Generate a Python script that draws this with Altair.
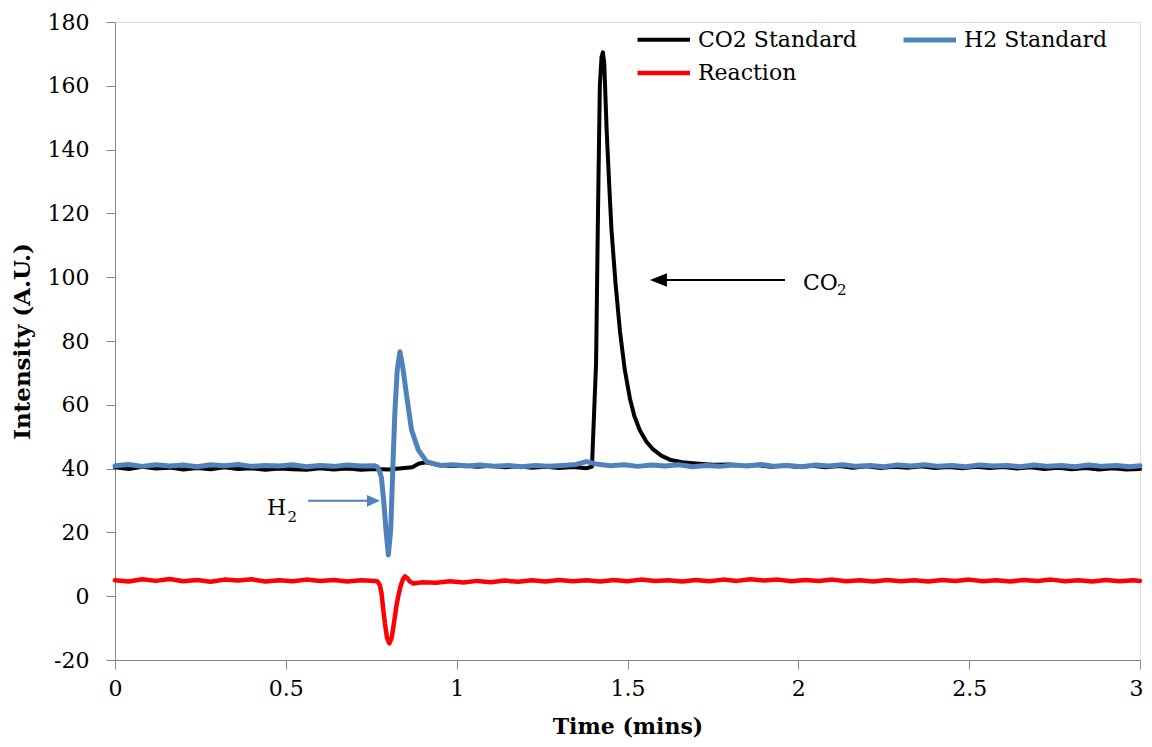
import altair as alt
import pandas as pd

# ---------------- data ----------------
series_names = ["CO2 Standard", "H2 Standard", "Reaction"]
series_colors = ["#000000", "#4F81BD", "#FF0000"]
series_widths = [4, 4.5, 5]
# legend lays entries out column by column: CO2 / Reaction in column 1, H2 in column 2
legend_order = ["CO2 Standard", "Reaction", "H2 Standard"]

co2_t = [0.00, 0.04, 0.08, 0.12, 0.16, 0.20, 0.24, 0.28, 0.32, 0.36,
         0.40, 0.44, 0.48, 0.52, 0.56, 0.60, 0.64, 0.68, 0.72, 0.76,
         0.80, 0.84, 0.87, 0.89, 0.91, 0.94, 0.98, 1.02, 1.06, 1.10,
         1.14, 1.18, 1.22, 1.26, 1.30, 1.34, 1.38, 1.396, 1.408, 1.413,
         1.419, 1.424, 1.428, 1.432, 1.439, 1.446, 1.453, 1.465, 1.478, 1.492,
         1.507, 1.52, 1.536, 1.555, 1.575, 1.60, 1.624, 1.66, 1.70, 1.75,
         1.80, 1.84, 1.88, 1.92, 1.96, 2.00, 2.04, 2.08, 2.12, 2.16,
         2.20, 2.24, 2.28, 2.32, 2.36, 2.40, 2.44, 2.48, 2.52, 2.56,
         2.60, 2.64, 2.68, 2.72, 2.76, 2.80, 2.84, 2.88, 2.92, 2.96, 3.00]
co2_v = [40.4, 39.9, 40.6, 40.0, 40.3, 39.7, 40.2, 39.8, 40.4, 39.9,
         40.1, 39.6, 40.0, 39.8, 39.6, 40.1, 39.7, 40.0, 39.6, 39.9,
         39.7, 40.1, 40.4, 41.6, 42.0, 41.3, 40.8, 41.0, 40.6, 40.9,
         40.4, 40.7, 40.3, 40.6, 40.2, 40.5, 40.1, 40.6, 73.0, 115.0,
         160.0, 169.0, 170.5, 167.0, 146.0, 130.0, 115.0, 98.0, 83.0, 71.0,
         62.0, 56.5, 52.0, 48.5, 46.0, 44.0, 42.8, 42.0, 41.6, 41.2,
         41.3, 40.8, 41.1, 40.6, 41.0, 40.5, 40.9, 40.4, 40.8, 40.3,
         40.7, 40.2, 40.6, 40.3, 40.7, 40.2, 40.5, 40.1, 40.6, 40.2,
         40.5, 40.0, 40.4, 39.9, 40.3, 39.8, 40.2, 39.7, 40.1, 39.7, 39.9]

h2_t = [0.00, 0.04, 0.08, 0.12, 0.16, 0.20, 0.24, 0.28, 0.32, 0.36,
        0.40, 0.44, 0.48, 0.52, 0.56, 0.60, 0.64, 0.68, 0.72, 0.76,
        0.768, 0.775, 0.780, 0.787, 0.793, 0.800, 0.807, 0.813, 0.819, 0.826,
        0.834, 0.842, 0.854, 0.868, 0.888, 0.912, 0.951, 0.99, 1.03, 1.07,
        1.11, 1.15, 1.19, 1.23, 1.27, 1.31, 1.35, 1.38, 1.41, 1.45,
        1.49, 1.53, 1.57, 1.61, 1.65, 1.69, 1.73, 1.77, 1.81, 1.85,
        1.89, 1.93, 1.97, 2.01, 2.05, 2.09, 2.13, 2.17, 2.21, 2.25,
        2.29, 2.33, 2.37, 2.41, 2.45, 2.49, 2.53, 2.57, 2.61, 2.65,
        2.69, 2.73, 2.77, 2.81, 2.85, 2.89, 2.93, 2.97, 3.00]
h2_v = [40.9, 41.3, 40.7, 41.2, 40.8, 41.1, 40.6, 41.2, 40.9, 41.3,
        40.7, 41.0, 40.8, 41.2, 40.6, 41.0, 40.7, 41.1, 40.8, 40.9,
        40.5, 39.0, 37.0, 29.2, 20.8, 12.9, 20.8, 39.6, 57.3, 70.9,
        76.6, 72.0, 62.5, 52.1, 45.8, 42.2, 41.0, 41.2, 40.8, 41.1,
        40.7, 41.0, 40.6, 41.0, 40.7, 41.0, 41.3, 42.2, 41.4, 40.9,
        41.2, 40.7, 41.1, 40.8, 41.2, 40.6, 41.0, 40.7, 41.1, 40.8,
        41.3, 40.7, 41.0, 40.6, 41.1, 40.8, 41.2, 40.7, 41.0, 40.6,
        41.1, 40.8, 41.2, 40.7, 41.0, 40.6, 41.1, 40.8, 41.0, 40.6,
        41.1, 40.7, 41.0, 40.6, 41.1, 40.7, 41.0, 40.6, 40.9]

rx_t = [0.00, 0.04, 0.08, 0.12, 0.16, 0.20, 0.24, 0.28, 0.32, 0.36,
        0.40, 0.44, 0.48, 0.52, 0.56, 0.60, 0.64, 0.68, 0.72, 0.76,
        0.768, 0.775, 0.780, 0.785, 0.790, 0.796, 0.803, 0.810, 0.817, 0.823,
        0.829, 0.836, 0.843, 0.849, 0.856, 0.864, 0.873, 0.90, 0.94, 0.98,
        1.02, 1.06, 1.10, 1.14, 1.18, 1.22, 1.26, 1.30, 1.34, 1.38,
        1.42, 1.46, 1.50, 1.54, 1.58, 1.62, 1.66, 1.70, 1.74, 1.78,
        1.82, 1.86, 1.90, 1.94, 1.98, 2.02, 2.06, 2.10, 2.14, 2.18,
        2.22, 2.26, 2.30, 2.34, 2.38, 2.42, 2.46, 2.50, 2.54, 2.58,
        2.62, 2.66, 2.70, 2.74, 2.78, 2.82, 2.86, 2.90, 2.94, 2.98, 3.00]
rx_v = [5.0, 4.6, 5.3, 4.8, 5.4, 4.7, 5.1, 4.5, 5.2, 4.9,
        5.3, 4.6, 5.0, 4.7, 5.2, 4.8, 5.1, 4.6, 5.0, 4.8,
        4.6, 3.5, 1.0, -4.0, -8.5, -13.0, -14.8, -13.0, -8.0, -3.5,
        0.0, 3.2, 5.4, 6.2, 5.6, 4.5, 4.0, 4.4, 4.2, 4.7,
        4.3, 4.8, 4.4, 4.9, 4.5, 5.0, 4.6, 5.1, 4.7, 5.0,
        4.6, 5.1, 4.7, 5.2, 4.8, 5.0, 4.6, 5.1, 4.7, 5.2,
        4.8, 5.3, 4.9, 5.2, 4.7, 5.1, 4.8, 5.2, 4.7, 5.0,
        4.6, 5.1, 4.7, 5.0, 4.6, 5.1, 4.8, 5.2, 4.7, 5.0,
        4.6, 5.1, 4.8, 5.2, 4.7, 5.0, 4.6, 5.1, 4.7, 5.0, 4.8]

x_ticks = [0, 0.5, 1, 1.5, 2, 2.5, 3]
y_ticks = [-20, 0, 20, 40, 60, 80, 100, 120, 140, 160, 180]

# annotations: arrow (start x, tip x, y) and label anchors
co2_arrow = {"x_start": 1.961, "x_tip": 1.5657, "y": 99.1}
h2_arrow = {"x_start": 0.565, "x_tip": 0.7755, "y": 29.9}
co2_label = {"main": "CO", "sub": "2", "x": 2.0135, "y": 96.0, "xs": 2.113, "ys": 94.4}
h2_label = {"main": "H", "sub": "2", "x": 0.445, "y": 25.45, "xs": 0.505, "ys": 23.3}

# ---------------- build table ----------------
rows = []
for name, ts, vs in zip(series_names, [co2_t, h2_t, rx_t], [co2_v, h2_v, rx_v]):
    assert len(ts) == len(vs), name
    for t, v in zip(ts, vs):
        rows.append({"series": name, "time": t, "value": v})
df = pd.DataFrame(rows)

color_of = dict(zip(series_names, series_colors))
width_of = dict(zip(series_names, series_widths))

FONT = "DejaVu Serif"
AXIS_GREY = "#868686"

xscale = alt.Scale(domain=[0, 3], nice=False, zero=False)
yscale = alt.Scale(domain=[-20, 180], nice=False, zero=False)

lines = alt.Chart(df).mark_line(strokeJoin="round", strokeCap="round").encode(
    x=alt.X("time:Q", scale=xscale, axis=alt.Axis(
        values=x_ticks, format="~g", title="Time (mins)", grid=False,
        labelFont=FONT, labelFontSize=22, labelColor="black", labelPadding=9,
        labelFlush=False, labelOverlap=False,
        labelOffset={"condition": {"test": "datum.value === 3", "value": -4}, "value": 0},
        tickSize=9, tickColor=AXIS_GREY, domainColor=AXIS_GREY,
        titleFont=FONT, titleFontSize=22, titleFontWeight="bold", titleColor="black",
        titleX=512.5, titleY=66, titleBaseline="middle", titleAlign="center")),
    y=alt.Y("value:Q", scale=yscale, axis=alt.Axis(
        values=y_ticks, labelExpr="'' + datum.value", title="Intensity (A.U.)", grid=False,
        labelFont=FONT, labelFontSize=22, labelColor="black", labelPadding=17,
        labelFlush=False, labelOverlap=False,
        tickSize=9, tickColor=AXIS_GREY, domainColor=AXIS_GREY,
        titleFont=FONT, titleFontSize=23, titleFontWeight="bold", titleColor="black",
        titleX=-93, titleY=319, titleBaseline="middle", titleAlign="center")),
    color=alt.Color("series:N",
                    scale=alt.Scale(domain=legend_order, range=[color_of[s] for s in legend_order]),
                    legend=alt.Legend(title=None, orient="none", legendX=520, legendY=-2,
                                      columns=2, symbolType="M -1 0 L 2 0", symbolSize=1225,
                                      symbolStrokeWidth=4, labelFont=FONT, labelFontSize=22,
                                      labelColor="black", labelOffset=23, labelLimit=400,
                                      columnPadding=36, rowPadding=2, padding=0)),
    strokeWidth=alt.StrokeWidth("series:N",
                                scale=alt.Scale(domain=legend_order, range=[width_of[s] for s in legend_order]),
                                legend=None),
)

def arrow(spec, color, head_shape, head_size, line_end):
    d = pd.DataFrame([{"x": spec["x_start"], "x2": line_end, "y": spec["y"], "tip": spec["x_tip"]}])
    shaft = alt.Chart(d).mark_rule(color=color, strokeWidth=2).encode(
        x=alt.X("x:Q", scale=xscale), x2="x2:Q", y=alt.Y("y:Q", scale=yscale))
    head = alt.Chart(d).mark_point(shape=head_shape, size=head_size, filled=True,
                                   color=color, opacity=1, strokeWidth=0).encode(
        x=alt.X("tip:Q", scale=xscale), y=alt.Y("y:Q", scale=yscale))
    return shaft + head

co2_arr = arrow(co2_arrow, "#000000", "M 0 0 L 2 -0.8 L 2 0.8 Z", 289, co2_arrow["x_tip"] + 0.03)
h2_arr = arrow(h2_arrow, "#4F81BD", "M 0 0 L -2 -0.9 L -2 0.9 Z", 169, h2_arrow["x_tip"] - 0.025)

def label(spec):
    d1 = pd.DataFrame([{"x": spec["x"], "y": spec["y"], "t": spec["main"]}])
    d2 = pd.DataFrame([{"x": spec["xs"], "y": spec["ys"], "t": spec["sub"]}])
    m = alt.Chart(d1).mark_text(font=FONT, fontSize=22, align="left", baseline="alphabetic",
                                color="black").encode(
        x=alt.X("x:Q", scale=xscale), y=alt.Y("y:Q", scale=yscale), text="t:N")
    s = alt.Chart(d2).mark_text(font=FONT, fontSize=15, align="left", baseline="alphabetic",
                                color="black").encode(
        x=alt.X("x:Q", scale=xscale), y=alt.Y("y:Q", scale=yscale), text="t:N")
    return m + s

chart = alt.layer(lines, co2_arr, h2_arr, label(co2_label), label(h2_label)).properties(
    width=1025, height=638,
    padding={"left": 107, "top": 14, "right": 4, "bottom": 79},
    autosize=alt.AutoSizeParams(type="none"),
).configure_view(stroke=None).configure(background="white")

chart.save("out.html", embed_options={"renderer": "svg", "actions": False})
